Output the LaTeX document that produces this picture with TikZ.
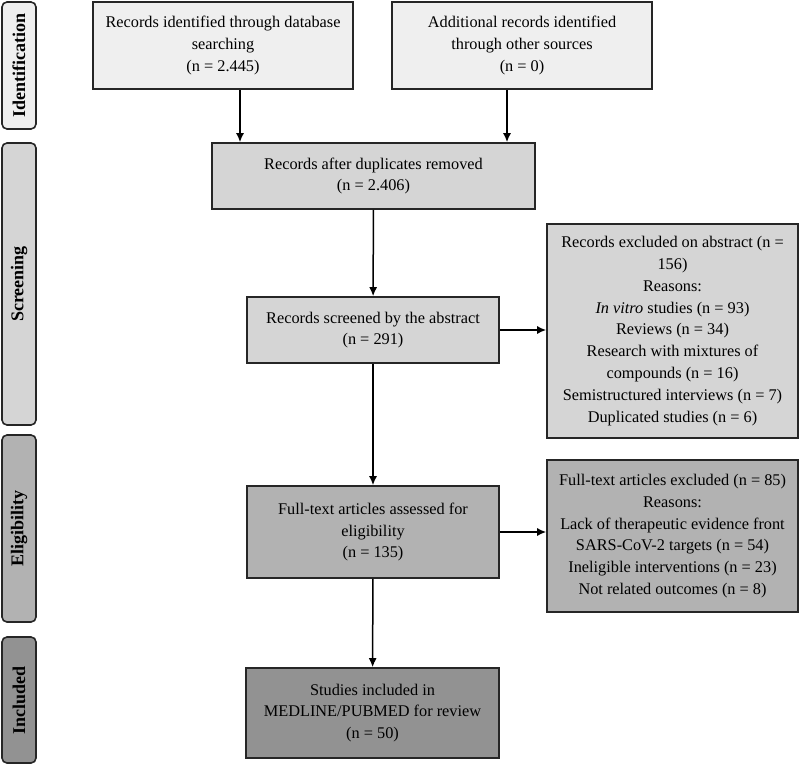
\documentclass[tikz,border=0pt]{standalone}
\usepackage{fontspec}
\setmainfont{Liberation Serif}
\usetikzlibrary{arrows.meta}

\definecolor{idfill}{HTML}{EFEFEF}
\definecolor{scrfill}{HTML}{D5D5D5}
\definecolor{elifill}{HTML}{B2B2B2}
\definecolor{incfill}{HTML}{929292}

\begin{document}
\begin{tikzpicture}[x=1pt,y=-1pt,
    box/.style={draw=black!85,line width=1.6pt,align=center,inner sep=0pt,
      font=\fontsize{16.3}{21.8}\selectfont},
    phase/.style={draw=black!85,line width=1.6pt,rounded corners=5pt,inner sep=0pt,
      rotate=90,minimum height=34pt,font=\fontsize{18}{20}\selectfont\bfseries},
    arr/.style={-{Latex[length=9pt,width=8pt]},line width=1.5pt}]
      \useasboundingbox (0,0) rectangle (800,765);

      \node[phase,fill=idfill,minimum width=127pt] (ident) at (19,65.5) {Identification};
      \node[phase,fill=scrfill,minimum width=282pt] (screen) at (19,284) {Screening};
      \node[phase,fill=elifill,minimum width=187pt] (elig) at (19,528.5) {Eligibility};
      \node[phase,fill=incfill,minimum width=126pt] (incl) at (19,700) {Included};

      \node[box,fill=idfill,minimum width=260pt,minimum height=87pt] (db) at (223,45.5)
        {Records identified through database\\ searching\\ (n = 2.445)};
      \node[box,fill=idfill,minimum width=260pt,minimum height=87pt] (other) at (522,45.5)
        {Additional records identified\\ through other sources\\ (n = 0)};
      \node[box,fill=scrfill,minimum width=323pt,minimum height=66pt] (dup) at (373.5,176)
        {Records after duplicates removed\\ (n = 2.406)};
      \node[box,fill=scrfill,minimum width=252pt,minimum height=66pt] (abs) at (373,330)
        {Records screened by the abstract\\ (n = 291)};
      \node[box,fill=scrfill,minimum width=251pt,minimum height=214pt] (exabs) at (672.5,331)
        {Records excluded on abstract (n =\\ 156)\\ Reasons:\\ \textit{In vitro} studies (n = 93)\\
         Reviews (n = 34)\\ Research with mixtures of\\ compounds (n = 16)\\
         Semistructured interviews (n = 7)\\ Duplicated studies (n = 6)};
      \node[box,fill=elifill,minimum width=252pt,minimum height=92pt] (full) at (373,532)
        {Full-text articles assessed for\\ eligibility\\ (n = 135)};
      \node[box,fill=elifill,minimum width=251pt,minimum height=152pt] (exfull) at (672.5,536)
        {Full-text articles excluded (n = 85)\\ Reasons:\\ Lack of therapeutic evidence front\\
         SARS-CoV-2 targets (n = 54)\\ Ineligible interventions (n = 23)\\ Not related outcomes (n = 8)};
      \node[box,fill=incfill,minimum width=253pt,minimum height=90pt] (final) at (372.5,713)
        {Studies included in\\ MEDLINE/PUBMED for review\\ (n = 50)};

      \draw[arr] ([xshift=17pt]db.south) -- ([xshift=17pt]db.south |- dup.north);
      \draw[arr] ([xshift=-15pt]other.south) -- ([xshift=-15pt]other.south |- dup.north);
      \draw[arr] (dup) -- (abs);
      \draw[arr] (abs) -- (abs -| exabs.west);
      \draw[arr] (abs) -- (full);
      \draw[arr] (full.east) -- (full.east -| exfull.west);
      \draw[arr] (full) -- (final);
    \end{tikzpicture}
\end{document}
